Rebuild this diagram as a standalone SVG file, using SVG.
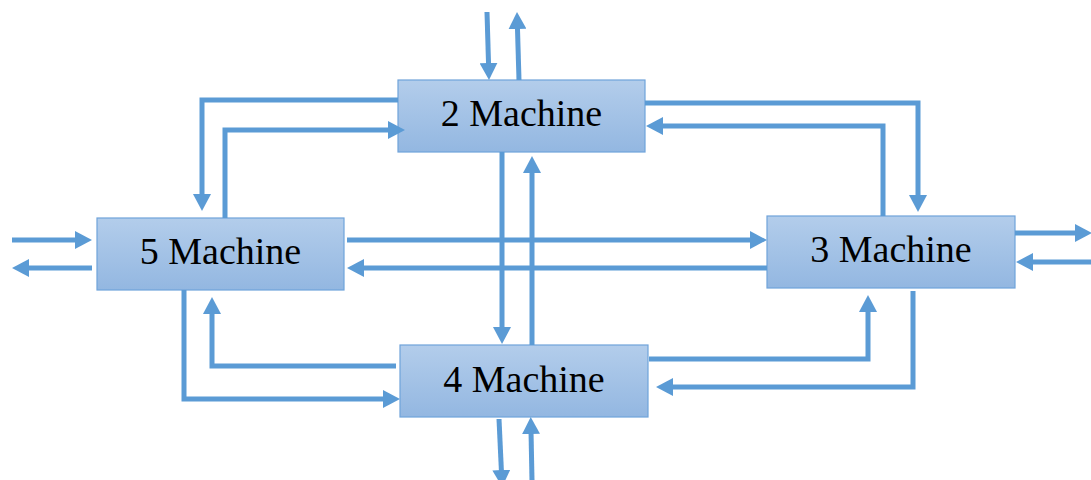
<svg xmlns="http://www.w3.org/2000/svg" width="1091" height="480" viewBox="0 0 1091 480">
  <style>
    .box { fill: url(#boxFill); stroke: #6FA3DA; stroke-width: 1.2; }
    .label { font-family: "Liberation Serif", "DejaVu Serif", serif; font-size: 38px; fill: #000; text-anchor: middle; }
    .flow { fill: none; stroke: #5B9BD5; stroke-width: 5; stroke-linejoin: miter; marker-end: url(#head); }
  </style>
  <defs>
    <linearGradient id="boxFill" x1="0" y1="0" x2="0" y2="1">
      <stop offset="0" stop-color="#B3CDEB"/>
      <stop offset="1" stop-color="#93B7E1"/>
    </linearGradient>
    <marker id="head" markerUnits="userSpaceOnUse" markerWidth="18" markerHeight="18" viewBox="0 0 18 18" refX="3" refY="9" orient="auto">
      <path d="M0,0 L17,9 L0,18 Z" fill="#5B9BD5"/>
    </marker>
  </defs>

  <rect width="1091" height="480" fill="#FFFFFF"/>

  <!-- machines -->
  <g id="machine-2">
    <rect class="box" x="398" y="80" width="247" height="72"/>
    <text class="label" x="521.5" y="126">2 Machine</text>
  </g>
  <g id="machine-5">
    <rect class="box" x="97" y="218" width="247" height="72"/>
    <text class="label" x="220.5" y="264">5 Machine</text>
  </g>
  <g id="machine-3">
    <rect class="box" x="767" y="216" width="248" height="72"/>
    <text class="label" x="891" y="262">3 Machine</text>
  </g>
  <g id="machine-4">
    <rect class="box" x="400" y="345" width="248" height="72"/>
    <text class="label" x="524" y="392">4 Machine</text>
  </g>

  <!-- material flows between machines -->
  <g id="connectors">
    <!-- external in/out at machine 2 -->
    <path class="flow" d="M487,12 L488.6,66"/>
    <path class="flow" d="M519,80 L517.4,26"/>
    <!-- 2 <-> 5 -->
    <path class="flow" d="M398,100 H202 V197"/>
    <path class="flow" d="M225,218 V130 H391"/>
    <!-- 2 <-> 3 -->
    <path class="flow" d="M645,103 H918 V198"/>
    <path class="flow" d="M883,216 V126 H660"/>
    <!-- 2 <-> 4 -->
    <path class="flow" d="M502,152 V330"/>
    <path class="flow" d="M532,345 V170"/>
    <!-- 5 <-> 3 -->
    <path class="flow" d="M347,240 H753"/>
    <path class="flow" d="M767,268 H361"/>
    <!-- external in/out at machine 5 -->
    <path class="flow" d="M12,240 H78"/>
    <path class="flow" d="M92,268 H26"/>
    <!-- external in/out at machine 3 -->
    <path class="flow" d="M1015,233 H1078"/>
    <path class="flow" d="M1091,262 H1030"/>
    <!-- 5 <-> 4 -->
    <path class="flow" d="M184,290 V399 H386"/>
    <path class="flow" d="M396,366 H212 V311"/>
    <!-- 4 <-> 3 -->
    <path class="flow" d="M649,359 H868 V309"/>
    <path class="flow" d="M913,291 V387 H670"/>
    <!-- external in/out at machine 4 -->
    <path class="flow" d="M499,419 L501.5,473"/>
    <path class="flow" d="M532,480 L531,431"/>
  </g>
</svg>
